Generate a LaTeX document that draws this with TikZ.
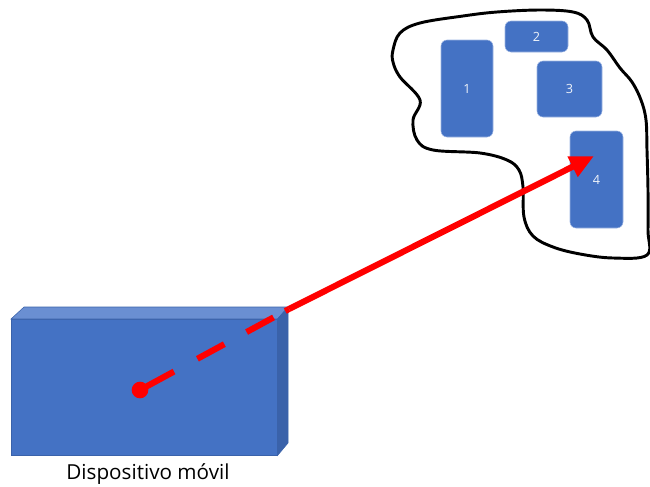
\documentclass[tikz,border=0pt]{standalone}
\usepackage{fontspec}
\setmainfont{Open Sans}
\usetikzlibrary{arrows.meta}
\definecolor{boxblue}{HTML}{4472C4}
\definecolor{topblue}{HTML}{6A8FD2}
\definecolor{sideblue}{HTML}{3A62AA}
\definecolor{edgeblue}{HTML}{9DB5E3}
\definecolor{rred}{HTML}{FF0000}
\begin{document}
\begin{tikzpicture}[x=0.75pt,y=-0.75pt,
  room/.style={rectangle, rounded corners=4.5pt, fill=boxblue, draw=edgeblue, line width=0.4pt,
    text=white!92!boxblue, font=\fontsize{9.5}{11}\selectfont, inner sep=0pt},
  redline/.style={draw=rred, line width=4.6pt},
  blob/.style={draw=black, line width=2.2pt, line join=round},
  face/.style={line width=0.4pt}]
\useasboundingbox (0,0) rectangle (650,486);
% device
\node[fill=boxblue, draw=sideblue, face, minimum width=199.5pt, minimum height=102pt, anchor=north west, inner sep=0pt] (dev) at (11,319) {};
\coordinate (tl) at (24,307);
\coordinate (tr) at (288,307);
\coordinate (br) at (288,443);
\fill[topblue, draw=sideblue, face] (dev.north west) -- (tl) -- (tr) -- (dev.north east) -- cycle;
\fill[sideblue, draw=sideblue, face] (dev.north east) -- (tr) -- (br) -- (dev.south east) -- cycle;
\node[font=\fontsize{15.5}{18}\selectfont, inner sep=0pt] (lbl) at (148,474) {Dispositivo móvil};
% blob
\draw[blob] plot[smooth cycle, tension=0.6] coordinates {
 (393,50) (400,33) (420,23) (463,16) (497,12) (540,10) (573,12) (587,20) (593,37)
 (607,50) (620,68) (632,82) (641,100) (646,120) (647,150) (648,190) (648,230) (647,255)
 (613,258) (580,254) (553,247) (533,236) (524,217) (523,187) (519,170) (507,160)
 (480,153) (433,150) (417,140) (413,120) (420,100) (400,77) (393,62)};
% rooms
\node[room, minimum width=39pt, minimum height=72.75pt] (r1) at (467,88.5) {1};
\node[room, minimum width=47.25pt, minimum height=23.25pt] (r2) at (536.5,36.5) {2};
\node[room, minimum width=48.75pt, minimum height=42pt] (r3) at (569.5,89) {3};
\node[room, minimum width=39.75pt, minimum height=72.75pt] (r4) at (596.5,179.5) {4};
% signal
\node[circle, fill=rred, minimum size=12.5pt, inner sep=0pt] (dot) at (140,390) {};
\coordinate (corner) at (289,309);
\coordinate (tip) at (594,156);
\draw[redline, dash pattern=on 29pt off 20pt on 23pt off 19pt on 23pt off 10pt] (dot.center) -- (corner);
\draw[redline, -{Triangle[length=18pt,width=16pt]}] (corner) -- (tip);
\end{tikzpicture}
\end{document}
